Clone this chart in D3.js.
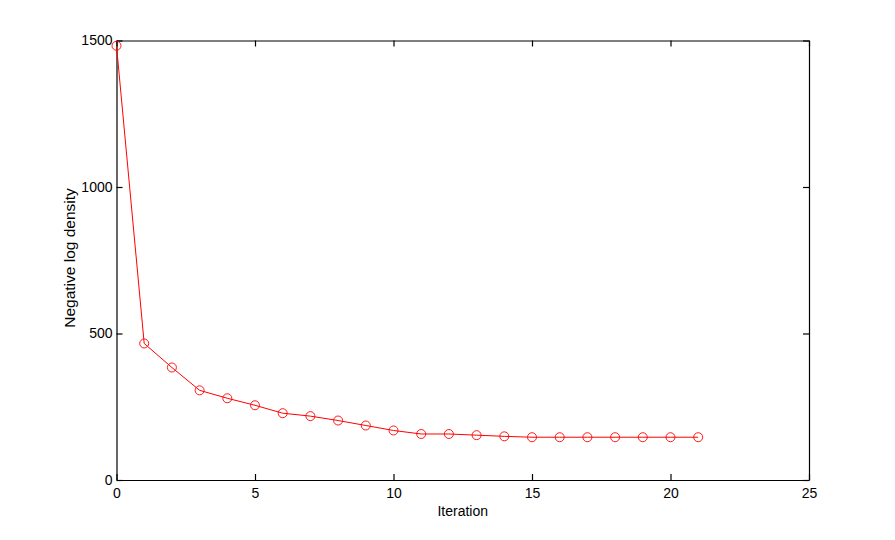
<!DOCTYPE html>
<html>
<head>
<meta charset="utf-8">
<script src="https://cdn.jsdelivr.net/npm/d3@7"></script>
<style>
  body { margin: 0; background: #fff; }
  text { font-family: "Liberation Sans", Arial, Helvetica, sans-serif; }
</style>
</head>
<body>
<div id="container"></div>
<script>
// values
var iterations = [0, 1, 2, 3, 4, 5, 6, 7, 8, 9, 10, 11, 12, 13, 14, 15, 16, 17, 18, 19, 20, 21];
var negLogDensity = [1482, 466, 384, 306, 279, 255, 228, 218, 203, 186, 169, 157, 157, 153, 149, 146, 146, 146, 146, 146, 146, 146];
var xTicks = [0, 5, 10, 15, 20, 25];
var yTicks = [0, 500, 1000, 1500];

var width = 895, height = 540;
var margin = {left: 116.5, right: 86, top: 40.5, bottom: 60};

var svg = d3.select("#container").append("svg")
    .attr("width", width)
    .attr("height", height);

var x = d3.scaleLinear().domain([0, 25]).range([margin.left, width - margin.right]);
var y = d3.scaleLinear().domain([0, 1500]).range([height - margin.bottom, margin.top]);

var tickLen = 6;
var fmt = d3.format("d");

// axes, ticks pointing inward on all four sides
svg.append("g")
    .attr("transform", "translate(0," + y(0) + ")")
    .call(d3.axisBottom(x).tickValues(xTicks).tickFormat(fmt).tickSizeInner(-tickLen).tickSizeOuter(0).tickPadding(8));
svg.append("g")
    .attr("transform", "translate(0," + y(1500) + ")")
    .call(d3.axisTop(x).tickValues(xTicks).tickSizeInner(-tickLen).tickSizeOuter(0).tickFormat(""));
svg.append("g")
    .attr("transform", "translate(" + x(0) + ",0)")
    .call(d3.axisLeft(y).tickValues(yTicks).tickFormat(fmt).tickSizeInner(-tickLen).tickSizeOuter(0).tickPadding(4));
svg.append("g")
    .attr("transform", "translate(" + x(25) + ",0)")
    .call(d3.axisRight(y).tickValues(yTicks).tickSizeInner(-tickLen).tickSizeOuter(0).tickFormat(""));

svg.selectAll(".domain").attr("stroke", "#000").attr("stroke-width", 1.2);
svg.selectAll(".tick line").attr("stroke", "#000").attr("stroke-width", 1.2);
svg.selectAll(".tick text")
    .attr("fill", "#000")
    .style("font-size", "14px")
    .style("font-family", "'Liberation Sans', Arial, Helvetica, sans-serif");

// line and circle markers
var line = d3.line()
    .x(function(d, i) { return x(iterations[i]); })
    .y(function(d) { return y(d); });

svg.append("path")
    .datum(negLogDensity)
    .attr("d", line)
    .attr("fill", "none")
    .attr("stroke", "#ff0000")
    .attr("stroke-width", 1);

svg.selectAll(".pt")
    .data(negLogDensity)
    .enter().append("circle")
    .attr("class", "pt")
    .attr("cx", function(d, i) { return x(iterations[i]); })
    .attr("cy", function(d) { return y(d); })
    .attr("r", 4.5)
    .attr("fill", "none")
    .attr("stroke", "#ff0000")
    .attr("stroke-width", 0.9);

// axis labels
svg.append("text")
    .attr("x", (x(0) + x(25)) / 2)
    .attr("y", 516)
    .attr("text-anchor", "middle")
    .style("font-size", "14px")
    .text("Iteration");

svg.append("text")
    .attr("transform", "translate(75,258) rotate(-90)")
    .attr("text-anchor", "middle")
    .style("font-size", "15.5px")
    .text("Negative log density");
</script>
</body>
</html>
